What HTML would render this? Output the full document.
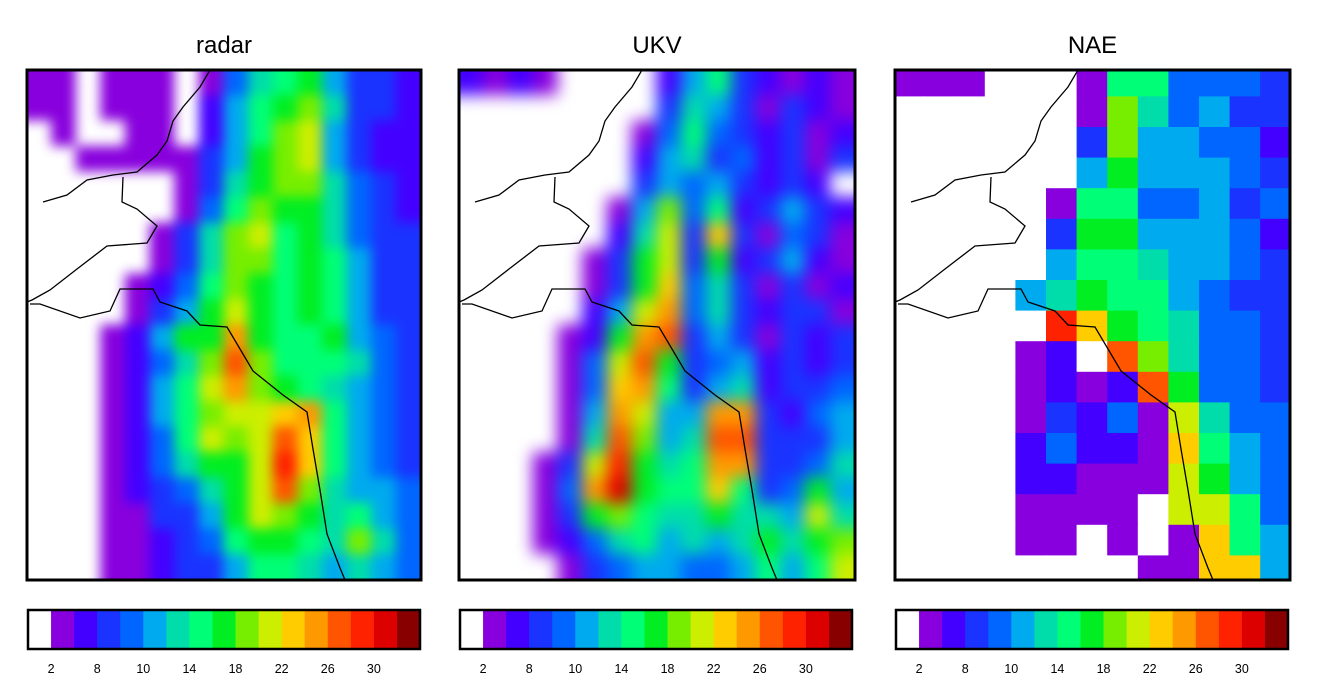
<!DOCTYPE html>
<html><head><meta charset="utf-8"><style>
html,body{margin:0;padding:0;background:#fff;}
svg{display:block;font-family:"Liberation Sans",sans-serif;}
</style></head><body>
<svg id="fig" width="1320" height="694" viewBox="0 0 1320 694">
<defs>
<filter id="blurR" x="-0.05" y="-0.05" width="1.1" height="1.1" color-interpolation-filters="sRGB"><feGaussianBlur stdDeviation="6"/><feComponentTransfer><feFuncA type="table" tableValues="1 1"/></feComponentTransfer></filter>
<filter id="blurU" x="-0.05" y="-0.05" width="1.1" height="1.1" color-interpolation-filters="sRGB"><feGaussianBlur stdDeviation="8"/><feComponentTransfer><feFuncA type="table" tableValues="1 1"/></feComponentTransfer></filter>
</defs>
</svg>
<script>
const colorbarColors = ["#ffffff","#8800dd","#4400ff","#1a33ff","#0066ff","#00aaee","#00ddaa","#00ff77","#00ee22","#77ee00","#ccee00","#ffcc00","#ff9900","#ff5500","#ff2200","#dd0000","#880000"];
const colorbarTicks = ["2","8","10","14","18","22","26","30"];
const colorbarTickIdx = [1,3,5,7,9,11,13,15];
const panelTitles = ["radar","UKV","NAE"];
const radarGrid = [
[1,1,0,1,1,1,0,1,4,6,7,8,5,3,3,2],
[1,1,0,1,1,1,0,2,5,7,8,9,6,3,3,2],
[0,1,0,0,1,1,0,2,5,7,9,10,5,3,2,2],
[0,0,1,1,1,1,1,3,5,8,9,10,5,3,2,2],
[0,0,0,0,0,0,1,3,6,8,9,9,6,4,3,2],
[0,0,0,0,0,0,1,4,7,9,8,8,6,4,3,2],
[0,0,0,0,0,1,3,6,9,10,7,8,6,4,3,3],
[0,0,0,0,0,1,3,6,9,9,7,8,7,5,3,3],
[0,0,0,0,1,2,4,7,9,8,7,8,7,5,3,3],
[0,0,0,0,1,3,5,8,10,8,7,8,7,5,3,3],
[0,0,0,1,2,5,8,8,12,8,7,7,8,5,4,3],
[0,0,0,1,2,4,6,9,13,9,7,7,7,6,4,3],
[0,0,0,1,2,5,7,10,12,9,8,7,6,5,4,3],
[0,0,0,1,2,5,7,9,10,10,11,12,7,5,4,3],
[0,0,0,1,2,4,7,10,9,10,13,11,7,5,4,3],
[0,0,0,1,2,4,6,8,8,10,14,11,7,5,4,3],
[0,0,0,1,2,3,4,6,8,10,13,9,6,5,5,4],
[0,0,0,1,1,3,3,5,8,10,9,8,6,7,5,4],
[0,0,0,1,1,2,3,4,7,8,8,7,6,9,6,4],
[0,0,0,1,1,2,3,3,5,7,7,6,5,6,5,4]];
const ukvGrid = [
[2,1,2,1,0,0,0,0,2,5,7,3,2,1,2,1],
[0,0,0,0,0,0,0,0,3,6,5,3,1,3,2,1],
[0,0,0,0,0,0,0,1,4,7,4,3,2,3,1,2],
[0,0,0,0,0,0,0,2,5,6,3,4,2,3,1,3],
[0,0,0,0,0,0,0,3,5,4,5,3,2,3,2,0],
[0,0,0,0,0,0,1,5,9,4,7,2,3,5,3,2],
[0,0,0,0,0,0,2,6,10,3,11,3,1,4,3,1],
[0,0,0,0,0,1,3,8,10,3,8,2,3,5,2,1],
[0,0,0,0,0,1,3,8,11,4,6,3,1,3,1,2],
[0,0,0,0,0,2,5,10,12,4,6,3,2,3,3,1],
[0,0,0,0,1,2,8,12,13,3,5,3,1,3,2,3],
[0,0,0,0,1,4,10,13,8,3,4,5,2,3,2,3],
[0,0,0,0,1,4,11,12,7,3,5,6,2,3,3,4],
[0,0,0,0,1,5,12,10,5,5,12,12,3,2,4,5],
[0,0,0,0,1,6,13,9,5,6,13,13,3,3,3,5],
[0,0,0,1,3,10,14,8,6,7,12,12,3,3,4,6],
[0,0,0,1,4,12,15,8,7,7,11,7,3,4,8,5],
[0,0,0,1,3,8,9,7,6,6,8,6,6,5,10,6],
[0,0,0,1,2,4,6,7,5,6,5,6,8,6,8,9],
[0,0,0,0,1,3,4,5,5,4,4,5,7,5,7,10]];
const naeGrid = [
[1,1,1,0,0,0,1,7,7,4,4,4,3],
[0,0,0,0,0,0,1,9,6,4,5,3,3],
[0,0,0,0,0,0,3,9,5,5,4,4,2],
[0,0,0,0,0,0,5,8,5,5,5,4,3],
[0,0,0,0,0,1,7,7,4,4,5,3,4],
[0,0,0,0,0,3,8,8,5,5,5,4,2],
[0,0,0,0,0,5,7,7,6,5,5,4,3],
[0,0,0,0,5,6,8,7,7,5,4,3,3],
[0,0,0,0,0,14,11,8,7,6,4,4,3],
[0,0,0,0,1,2,0,13,9,6,4,4,3],
[0,0,0,0,1,2,1,2,13,8,4,4,3],
[0,0,0,0,1,3,2,4,1,10,6,4,4],
[0,0,0,0,2,4,2,2,1,11,7,5,4],
[0,0,0,0,2,2,1,1,1,10,8,5,4],
[0,0,0,0,1,1,1,1,0,10,10,7,4],
[0,0,0,0,1,1,0,1,0,1,11,7,5],
[0,0,0,0,0,0,0,0,1,1,11,11,5]];

const NS="http://www.w3.org/2000/svg";
const svg=document.getElementById('fig');
function mk(tag,attrs,parent){const e=document.createElementNS(NS,tag);for(const k in attrs)e.setAttribute(k,attrs[k]);(parent||svg).appendChild(e);return e;}

const panels=[{x:27,w:394},{x:459,w:396},{x:895,w:395}];
const PY=70,PH=510;
const coast="M183,0 L173,17 L156,37 L146,51 L140,71 L130,85 L110,102 L86,105 L60,110 L40,125 L16,132 M96,107 L95,132 L110,139 L130,156 L120,173 L80,176 L50,199 L23,220 L5,230 L0,232 M3,234 L13,234 L53,248 L83,241 L93,219 L126,219 L133,232 L160,241 L173,255 L200,257 L226,301 L256,325 L280,342 L286,379 L293,420 L300,464 L313,498 L318,510";

function valueToColorIdx(v){return Math.max(0,Math.min(colorbarColors.length-1,v));}

function drawField(pi,grid,filterId,name){
  const p=panels[pi];
  const cp=mk('clipPath',{id:'clip'+pi},svg.querySelector('defs'));
  mk('rect',{x:p.x,y:PY,width:p.w,height:PH},cp);
  const outer=mk('g',{'clip-path':'url(#clip'+pi+')'});
  
  
  mk('rect',{x:p.x,y:PY,width:p.w,height:PH,fill:'#fff'},outer);
  const g=mk('g',filterId?{filter:'url(#'+filterId+')'}:{},outer);
  const rows=grid.length, cols=grid[0].length;
  let cw,ch,ox,oy;
  if(filterId){cw=p.w/cols;ch=PH/rows;ox=p.x;oy=PY;}
  else{cw=30.6;ch=30.6;ox=893;oy=96.4-30.6;}
  for(let r=0;r<rows;r++)for(let c=0;c<cols;c++){
    const v=grid[r][c];
    const rc=mk('rect',{x:ox+c*cw-(filterId?0.5:0),y:oy+r*ch-(filterId?0.5:0),width:cw+1,height:ch+1,fill:colorbarColors[valueToColorIdx(v)]},g);
    
    
  }
  const cl=mk('path',{d:coast,transform:'translate('+p.x+','+PY+')',fill:'none',stroke:'#000','stroke-width':1.3},outer);
  
  
  const b=mk('rect',{x:p.x,y:PY,width:p.w,height:PH,fill:'none',stroke:'#000','stroke-width':3});
  
  
  const t=mk('text',{x:p.x+p.w/2,y:53,'text-anchor':'middle','font-size':24,fill:'#000'});
  t.textContent=panelTitles[pi];
  
  
  const cbx=p.x+1,cbw=392,cby=610,cbh=39;
  const cg=mk('g',{});
  
  
  const n=colorbarColors.length,sw=cbw/n;
  colorbarColors.forEach((col,i)=>{
    const s=mk('rect',{x:cbx+i*sw,y:cby,width:sw+0.6,height:cbh,fill:col},cg);
    
    
  });
  mk('rect',{x:cbx,y:cby,width:cbw,height:cbh,fill:'none',stroke:'#000','stroke-width':2.5},cg);
  colorbarTicks.forEach((lab,i)=>{
    const tx=mk('text',{x:cbx+colorbarTickIdx[i]*sw,y:673,'text-anchor':'middle','font-size':12.5,fill:'#000'},cg);
    tx.textContent=lab;
    
    
  });
}
drawField(0,radarGrid,'blurR','radar');
drawField(1,ukvGrid,'blurU','ukv');
drawField(2,naeGrid,null,'nae');
</script>
</body></html>
